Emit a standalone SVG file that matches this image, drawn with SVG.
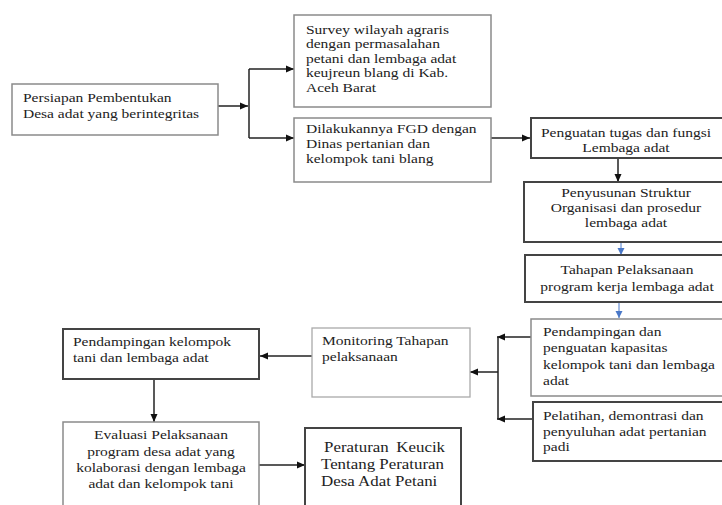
<svg xmlns="http://www.w3.org/2000/svg" width="722" height="505" viewBox="0 0 722 505">
<style>
text{font-family:"Liberation Serif","Times New Roman",serif;font-size:13.5px;fill:#222;}
.c{text-anchor:middle;}
.lg{font-size:15.5px;}
.b1{fill:#fff;stroke:#8a8a8a;stroke-width:1.5;}
.b2{fill:#fff;stroke:#444;stroke-width:2;}
.b3{fill:#fff;stroke:#aaa;stroke-width:1.3;}
.ln{fill:none;stroke:#222;stroke-width:1.5;}
.bl{fill:none;stroke:#4a78c8;stroke-width:1;}
</style>
<defs>
<marker id="ah" markerUnits="userSpaceOnUse" markerWidth="10" markerHeight="8" refX="8" refY="4" orient="auto">
<path d="M0,0.5 L8,4 L0,7.5 z" fill="#111"/>
</marker>
<marker id="ab" markerUnits="userSpaceOnUse" markerWidth="10" markerHeight="8" refX="7" refY="4" orient="auto">
<path d="M0,0.5 L7,4 L0,7.5 z" fill="#4a78c8"/>
</marker>
</defs>
<rect width="722" height="505" fill="#fff"/>

<g id="connectors">
<line class="ln" x1="218" y1="106" x2="248" y2="106" marker-end="url(#ah)"/>
<line class="ln" x1="249" y1="69" x2="249" y2="138"/>
<line class="ln" x1="249" y1="69" x2="294" y2="69" marker-end="url(#ah)"/>
<line class="ln" x1="249" y1="138" x2="294" y2="138" marker-end="url(#ah)"/>
<line class="ln" x1="491" y1="138" x2="530" y2="138" marker-end="url(#ah)"/>
<line class="ln" x1="618" y1="158" x2="618" y2="182" marker-end="url(#ah)"/>
<line class="bl" x1="621" y1="242" x2="621" y2="255" marker-end="url(#ab)"/>
<line class="bl" x1="619" y1="302" x2="619" y2="318" marker-end="url(#ab)"/>
<line class="ln" x1="531" y1="337" x2="497" y2="337" marker-end="url(#ah)"/>
<line class="ln" x1="533" y1="419" x2="497" y2="419" marker-end="url(#ah)"/>
<line class="ln" x1="498" y1="337" x2="498" y2="419"/>
<line class="ln" x1="498" y1="372" x2="470" y2="372" marker-end="url(#ah)"/>
<line class="ln" x1="312" y1="356" x2="260" y2="356" marker-end="url(#ah)"/>
<line class="ln" x1="154" y1="379" x2="154" y2="422" marker-end="url(#ah)"/>
<line class="ln" x1="259" y1="465" x2="305" y2="465" marker-end="url(#ah)"/>
</g>

<g id="n-persiapan">
<rect class="b1" x="12" y="84" width="206" height="51"/>
<g transform="matrix(1.15 0 0 1 -3.45 0)">
<text x="23" y="102">Persiapan Pembentukan</text>
<text x="23" y="118">Desa adat yang berintegritas</text>
</g>
</g>

<g id="n-survey">
<rect class="b1" x="294" y="15" width="197" height="92"/>
<g transform="matrix(1.15 0 0 1 -45.9 0)">
<text x="306" y="34">Survey wilayah agraris</text>
<text x="306" y="48.5">dengan permasalahan</text>
<text x="306" y="63">petani dan lembaga adat</text>
<text x="306" y="77.5">keujreun blang di Kab.</text>
<text x="306" y="92">Aceh Barat</text>
</g>
</g>

<g id="n-fgd">
<rect class="b1" x="294" y="118" width="197" height="64"/>
<g transform="matrix(1.15 0 0 1 -45.9 0)">
<text x="306" y="133">Dilakukannya FGD dengan</text>
<text x="306" y="148">Dinas pertanian dan</text>
<text x="306" y="163">kelompok tani blang</text>
</g>
</g>

<g id="n-penguatan">
<rect class="b2" x="531" y="118" width="200" height="40"/>
<g transform="matrix(1.15 0 0 1 -93.9 0)">
<text class="c" x="626" y="137">Penguatan tugas dan fungsi</text>
<text class="c" x="626" y="152">Lembaga adat</text>
</g>
</g>

<g id="n-penyusunan">
<rect class="b2" x="524" y="182" width="210" height="60"/>
<g transform="matrix(1.15 0 0 1 -93.9 0)">
<text class="c" x="626" y="197">Penyusunan Struktur</text>
<text class="c" x="626" y="212">Organisasi dan prosedur</text>
<text class="c" x="626" y="227">lembaga adat</text>
</g>
</g>

<g id="n-tahapan">
<rect class="b2" x="525" y="255" width="210" height="47"/>
<g transform="matrix(1.15 0 0 1 -94.05 0)">
<text class="c" x="627" y="274">Tahapan Pelaksanaan</text>
<text class="c" x="627" y="291">program kerja lembaga adat</text>
</g>
</g>

<g id="n-pendampingan-kapasitas">
<rect class="b1" x="531" y="319" width="200" height="77"/>
<g transform="matrix(1.15 0 0 1 -81.45 0)">
<text x="543" y="336">Pendampingan dan</text>
<text x="543" y="352.5">penguatan kapasitas</text>
<text x="543" y="369">kelompok tani dan lembaga</text>
<text x="543" y="385.5">adat</text>
</g>
</g>

<g id="n-pelatihan">
<rect class="b2" x="533" y="402" width="200" height="59"/>
<g transform="matrix(1.15 0 0 1 -81.45 0)">
<text x="543" y="420">Pelatihan, demontrasi dan</text>
<text x="543" y="436">penyuluhan adat pertanian</text>
<text x="543" y="451">padi</text>
</g>
</g>

<g id="n-monitoring">
<rect class="b3" x="312" y="328" width="158" height="69"/>
<g transform="matrix(1.15 0 0 1 -48.3 0)">
<text x="322" y="345">Monitoring Tahapan</text>
<text x="322" y="361">pelaksanaan</text>
</g>
</g>

<g id="n-pendampingan-kelompok">
<rect class="b2" x="63" y="329" width="196" height="50"/>
<g transform="matrix(1.15 0 0 1 -10.95 0)">
<text x="73" y="346">Pendampingan kelompok</text>
<text x="73" y="362">tani dan lembaga adat</text>
</g>
</g>

<g id="n-evaluasi">
<rect class="b1" x="63" y="422" width="196" height="95"/>
<g transform="matrix(1.15 0 0 1 -24.15 0)">
<text class="c" x="161" y="439">Evaluasi Pelaksanaan</text>
<text class="c" x="161" y="456">program desa adat yang</text>
<text class="c" x="161" y="472">kolaborasi dengan lembaga</text>
<text class="c" x="161" y="488">adat dan kelompok tani</text>
</g>
</g>

<g id="n-peraturan">
<rect class="b2" x="305" y="428" width="156" height="90"/>
<g transform="matrix(1.09 0 0 1 -28.89 0)">
<text class="lg" x="323.75" y="452">Peraturan</text>
<text class="lg" x="434.8" y="452" style="text-anchor:end">Keucik</text>
<text class="lg" x="321" y="469">Tentang Peraturan</text>
<text class="lg" x="321" y="486">Desa Adat Petani</text>
</g>
</g>
</svg>
